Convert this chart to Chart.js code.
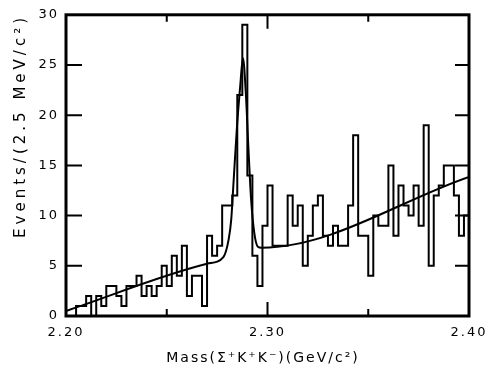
<!DOCTYPE html>
<html>
<head>
<meta charset="utf-8">
<script src="https://cdn.jsdelivr.net/npm/chart.js@4/dist/chart.umd.min.js"></script>
<style>
  html, body { margin: 0; padding: 0; background: #fff; }
  #wrap { width: 495px; height: 372px; }
</style>
</head>
<body>
<div id="wrap"><canvas id="myChart"></canvas></div>
<script>
// Events per 2.5 MeV/c2 bin, from 2.20 to 2.40 GeV/c2
const binStart = 2.20;
const binWidth = 0.0025;
const counts = [
  0, 0, 1, 1, 2, 0, 2, 1, 3, 3,
  2, 1, 3, 3, 4, 2, 3, 2, 3, 5,
  3, 6, 4, 7, 2, 4, 4, 1, 8, 6,
  7, 11, 11, 12, 22, 29, 14, 6, 3, 9,
  13, 7, 7, 7, 12, 9, 11, 5, 8, 11,
  12, 8, 7, 9, 7, 7, 11, 18, 8, 8,
  4, 10, 9, 9, 15, 8, 13, 11, 10, 13,
  9, 19, 5, 12, 13, 15, 15, 12, 8, 10
];

// fit curve (peak + linear background)
const fitMass  = [2.200, 2.270, 2.2782, 2.2807, 2.2820, 2.2832, 2.2848, 2.2865, 2.2878, 2.2893, 2.2906, 2.2919, 2.2935, 2.2952, 2.2970, 2.400];
const fitValue = [0.5,   5.2,   5.9,    7.6,    9.6,    13.5,   18.7,   23.0,   25.7,   22.0,   16.4,   11.5,   8.2,    6.9,    6.8,    13.85];

const xTickLabels = [2.20, 2.30, 2.40];
const xInnerTicks = [2.25, 2.30, 2.35];
const yTicks = [0, 5, 10, 15, 20, 25, 30];
const xTitle = 'Mass(Σ⁺K⁺K⁻)(GeV/c²)';
const yTitle = 'Events/(2.5 MeV/c²)';

// step histogram: a point on each bin's left edge, plus the closing edge
const histPoints = counts.map((c, i) => ({ x: binStart + i * binWidth, y: c }));
histPoints.push({ x: binStart + counts.length * binWidth, y: counts[counts.length - 1] });

const fitPoints = fitMass.map((m, i) => ({ x: m, y: fitValue[i] }));

const tickFont = { family: 'DejaVu Sans', size: 13 };

// box, inward tick marks and the (letter-spaced) axis titles
const frame = {
  id: 'frame',
  beforeDraw(chart) {
    chart.ctx.letterSpacing = '2px';
  },
  afterDraw(chart) {
    const { ctx, chartArea: a, scales: { x, y } } = chart;
    ctx.save();
    ctx.strokeStyle = '#000';
    ctx.lineWidth = 3;
    ctx.strokeRect(a.left, a.top, a.right - a.left, a.bottom - a.top);
    ctx.lineWidth = 2;
    ctx.beginPath();
    yTicks.slice(1, -1).forEach(v => {
      const py = y.getPixelForValue(v);
      ctx.moveTo(a.left, py); ctx.lineTo(a.left + 16, py);
      ctx.moveTo(a.right, py); ctx.lineTo(a.right - 14, py);
    });
    xInnerTicks.forEach(v => {
      const px = x.getPixelForValue(v);
      const len = Math.abs(v - 2.30) < 1e-6 ? 14 : 7;
      ctx.moveTo(px, a.bottom); ctx.lineTo(px, a.bottom - len);
      ctx.moveTo(px, a.top); ctx.lineTo(px, a.top + len);
    });
    ctx.stroke();

    ctx.fillStyle = '#000';
    ctx.textBaseline = 'middle';
    // x title
    ctx.font = '14px "DejaVu Sans"';
    ctx.letterSpacing = '2px';
    ctx.textAlign = 'center';
    ctx.fillText(xTitle, 263, 358);
    // y title, reads bottom to top
    ctx.font = '15px "DejaVu Sans"';
    ctx.letterSpacing = '4px';
    ctx.translate(21, 14);
    ctx.rotate(-Math.PI / 2);
    ctx.textAlign = 'right';
    ctx.fillText(yTitle, 0, 0);
    ctx.restore();
    ctx.letterSpacing = '0px';
  }
};

const config = {
  type: 'line',
  data: {
    datasets: [
      {
        label: 'events',
        data: histPoints,
        stepped: 'before',
        borderColor: '#000',
        borderWidth: 2,
        pointRadius: 0,
        fill: false,
      },
      {
        label: 'fit',
        data: fitPoints,
        borderColor: '#000',
        borderWidth: 2,
        pointRadius: 0,
        cubicInterpolationMode: 'monotone',
        fill: false,
      }
    ]
  },
  options: {
    responsive: true,
    maintainAspectRatio: false,
    animation: false,
    layout: { padding: { left: 0, right: 26, top: 11, bottom: 0 } },
    plugins: {
      legend: { display: false },
      tooltip: { enabled: false },
    },
    scales: {
      x: {
        type: 'linear',
        min: 2.20,
        max: 2.40,
        afterBuildTicks: s => { s.ticks = xTickLabels.map(v => ({ value: v })); },
        afterFit: s => { s.height = 56; },
        grid: { display: false, drawTicks: false },
        border: { display: false },
        ticks: {
          color: '#000',
          font: tickFont,
          padding: 9,
          maxRotation: 0,
          callback: v => v.toFixed(2),
        },
      },
      y: {
        min: 0,
        max: 30,
        afterBuildTicks: s => { s.ticks = yTicks.map(v => ({ value: v })); },
        afterFit: s => { s.width = 66; },
        grid: { display: false, drawTicks: false },
        border: { display: false },
        ticks: {
          color: '#000',
          font: tickFont,
          padding: 7,
          callback: v => String(v),
        },
      },
    },
  },
  plugins: [frame],
};

var ctx = document.getElementById('myChart').getContext('2d');
var myChart = new Chart(ctx, config);
</script>
</body>
</html>
